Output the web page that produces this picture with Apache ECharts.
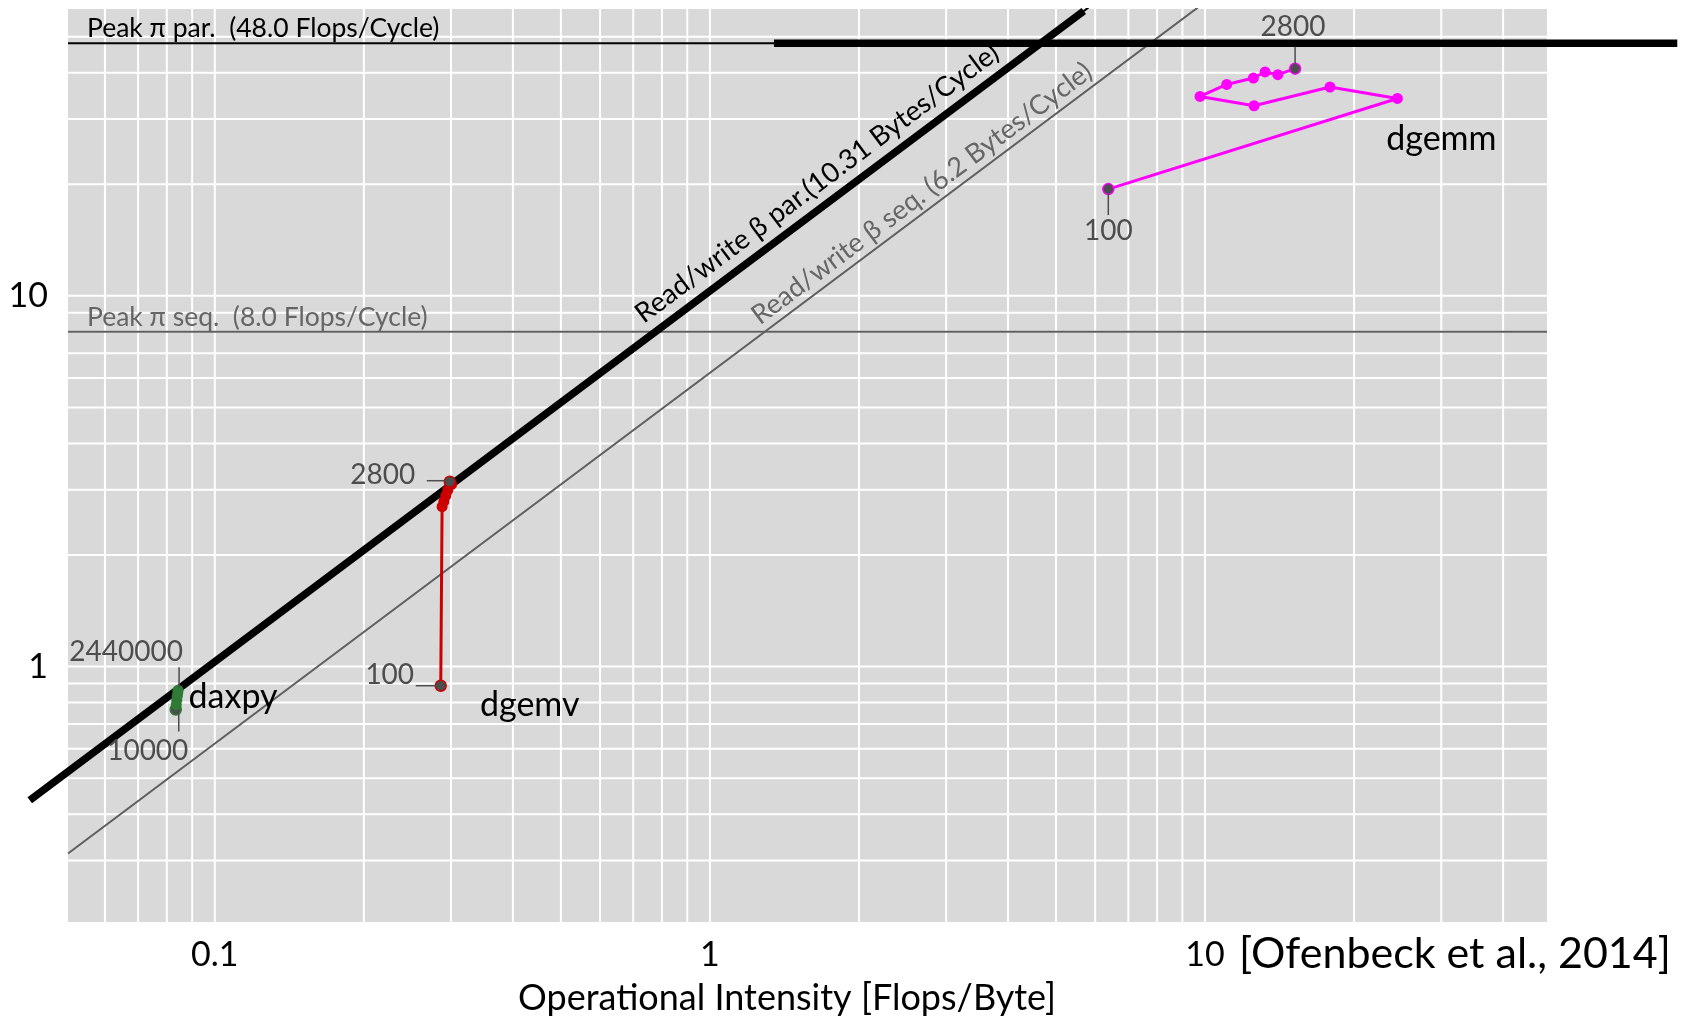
<!DOCTYPE html>
<html><head><meta charset="utf-8">
<script src="https://cdn.jsdelivr.net/npm/echarts@6/dist/echarts.min.js"></script>
<style>html,body{margin:0;padding:0;background:#fff}#c{width:1686px;height:1022px}</style>
</head><body><div id="c"></div>
<script>
// ---------------- data ----------------
const xGridValues = [0.06,0.07,0.08,0.09,0.1,0.2,0.3,0.4,0.5,0.6,0.7,0.8,0.9,1,2,3,4,5,6,7,8,9,10,20,30,40];
const yGridValues = [0.3,0.4,0.5,0.6,0.7,0.8,0.9,1,2,3,4,5,6,7,8,9,10,20,30,40,50];
const xTickLabels = [0.1, 1, 10];
const yTickLabels = [1, 10];
const xRange = [0.05053, 49.05];
const yRange = [0.2047, 59.4];

const peakPar = 48.0, peakSeq = 8.0;
const bwPar = 10.31, bwSeq = 6.2;
const peakParLabel = 'Peak \u03c0 par.  (48.0 Flops/Cycle)';
const peakSeqLabel = 'Peak \u03c0 seq.  (8.0 Flops/Cycle)';
const bwParLabel = 'Read/write \u03b2 par.(10.31 Bytes/Cycle)';
const bwSeqLabel = 'Read/write \u03b2 seq. (6.2 Bytes/Cycle)';
const bwParLabelAtX = 1.75;
const bwSeqLabelAtX = 2.805;

// highlighted roofline overlay (x extents)
const overlaySlopeX = [0.0423, 5.69];
const overlayPeakX = [1.347, 89.9];

const daxpyX = [0.0834, 0.0836, 0.0838, 0.0840, 0.0842, 0.0843];
const daxpyY = [0.766, 0.790, 0.812, 0.832, 0.850, 0.864];
const daxpyEnds = ['10000', '2440000'];

const dgemvX = [0.286, 0.2878, 0.2902, 0.2928, 0.2955, 0.3008, 0.2983];
const dgemvY = [0.888, 2.70, 2.79, 2.89, 2.99, 3.10, 3.153];
const dgemvEnds = ['100', '2800'];

const dgemmX = [6.377, 24.46, 17.88, 12.56, 9.77, 11.06, 12.52, 13.22, 14.03, 15.2];
const dgemmY = [19.41, 34.08, 36.59, 32.57, 34.51, 37.18, 38.69, 40.17, 39.5, 41.0];
const dgemmEnds = ['100', '2800'];

const citation = '[Ofenbeck et al., 2014]';
const xAxisName = 'Operational Intensity [Flops/Byte]';

// ---------------- styles / layout ----------------
const FONT = 'Lato';
const GRID = {left: 68, top: 9, width: 1479, height: 913};
const GRAY = '#4d4d4d';
const colors = {daxpy: '#2f7a35', dgemv: '#cc0000', dgemm: '#ff00ff'};

const pxPerDecX = GRID.width / Math.log10(xRange[1] / xRange[0]);
const pxPerDecY = GRID.height / Math.log10(yRange[1] / yRange[0]);
const roofAngle = Math.atan(pxPerDecY / pxPerDecX); // radians

function pts(xs, ys) { return xs.map((x, i) => [x, ys[i]]); }

const annotations = [];
function addText(x, y, text, o) {
  annotations.push(Object.assign({x, y, text, dx: 0, dy: 0, size: 28, color: GRAY,
    align: 'center', va: 'middle', rot: 0}, o));
}
// peak labels
addText(xRange[0], peakPar, peakParLabel, {dx: 19, dy: -1, size: 26.5, color: '#000', align: 'left', va: 'bottom'});
addText(xRange[0], peakSeq, peakSeqLabel, {dx: 19, dy: -1, size: 26.5, color: '#666', align: 'left', va: 'bottom'});
// bandwidth labels along the diagonals
addText(bwParLabelAtX, bwPar * bwParLabelAtX, bwParLabel, {size: 27.5, color: '#000', va: 'bottom', rot: roofAngle, ly: -8});
addText(bwSeqLabelAtX, bwSeq * bwSeqLabelAtX, bwSeqLabel, {size: 27, color: '#666', va: 'bottom', rot: roofAngle, ly: -3});
// size labels with leader segments
const nD = daxpyX.length - 1, nV = dgemvX.length - 1, nM = dgemmX.length - 1;
addText(daxpyX[0], daxpyY[0], daxpyEnds[0], {dx: -28, dy: 41, seg: [[3, 4], [3, 22]]});
addText(daxpyX[nD], daxpyY[nD], daxpyEnds[1], {dx: -52, dy: -38, seg: [[1, -3], [1, -23]]});
addText(dgemvX[0], dgemvY[0], dgemvEnds[0], {dx: -51, dy: -11, seg: [[-1, 0], [-25, 0]]});
addText(dgemvX[nV], dgemvY[nV], dgemvEnds[1], {dx: -67, dy: -7, seg: [[-5, -1], [-23, -1]]});
addText(dgemmX[0], dgemmY[0], dgemmEnds[0], {dx: 0, dy: 42, seg: [[0, 4], [0, 26]]});
addText(dgemmX[nM], dgemmY[nM], dgemmEnds[1], {dx: -2, dy: -42, seg: [[0, -4], [0, -22]]});
// kernel names
addText(daxpyX[nD], daxpyY[nD], 'daxpy', {dx: 55, dy: 7, size: 34, color: '#000'});
addText(dgemvX[0], dgemvY[0], 'dgemv', {dx: 89, dy: 19, size: 34, color: '#000'});
addText(dgemmX[1], dgemmY[1], 'dgemm', {dx: 44, dy: 41, size: 34, color: '#000'});

function isLabel(v, list) {
  return list.some(t => Math.abs(Math.log10(v) - Math.log10(t)) < 1e-6);
}

// position on the log-log axes, extrapolated beyond the axis extent when needed
function logCoord(api, x, y) {
  const a = api.coord([1, 1]);
  const b = api.coord([10, 10]);
  return [a[0] + Math.log10(x) * (b[0] - a[0]), a[1] + Math.log10(y) * (b[1] - a[1])];
}

function kernelSeries(name, xs, ys, grayFirst, grayLast) {
  const data = pts(xs, ys).map((p, i) => {
    const last = i === xs.length - 1;
    if ((i === 0 && grayFirst) || (last && grayLast)) {
      return {value: p, itemStyle: {color: GRAY, borderColor: colors[name], borderWidth: 1.5}};
    }
    return {value: p};
  });
  return {
    type: 'line', name, data, z: 4, silent: true, animation: false,
    symbol: 'circle', symbolSize: 11, showAllSymbol: true,
    itemStyle: {color: colors[name]},
    lineStyle: {color: colors[name], width: 3}
  };
}

const overlayLines = [
  [[overlaySlopeX[0], bwPar * overlaySlopeX[0]], [overlaySlopeX[1], bwPar * overlaySlopeX[1]]],
  [[overlayPeakX[0], peakPar], [overlayPeakX[1], peakPar]]
];

const chart = echarts.init(document.getElementById('c'), null, {renderer: 'canvas'});
chart.setOption({
  animation: false,
  backgroundColor: '#fff',
  grid: Object.assign({show: true, backgroundColor: '#d9d9d9', borderWidth: 0, containLabel: false}, GRID),
  xAxis: {
    type: 'log', logBase: 10, min: xRange[0], max: xRange[1],
    axisLine: {show: false}, axisTick: {show: false}, splitLine: {show: false},
    axisLabel: {fontSize: 34, fontFamily: FONT, color: '#000', margin: 16,
      showMinLabel: false, showMaxLabel: false,
      formatter: v => isLabel(v, xTickLabels) ? String(xTickLabels.find(t => isLabel(v, [t]))) : ''}
  },
  yAxis: {
    type: 'log', logBase: 10, min: yRange[0], max: yRange[1],
    axisLine: {show: false}, axisTick: {show: false}, splitLine: {show: false},
    axisLabel: {fontSize: 34, fontFamily: FONT, color: '#000', margin: 20,
      showMinLabel: false, showMaxLabel: false,
      formatter: v => isLabel(v, yTickLabels) ? String(yTickLabels.find(t => isLabel(v, [t]))) : ''}
  },
  graphic: [
    {type: 'text', x: 787, y: 998, style: {text: xAxisName, fontSize: 36, fontFamily: FONT, fill: '#000', align: 'center', verticalAlign: 'middle'}},
    {type: 'text', x: 1239, y: 954, style: {text: citation, fontSize: 43, fontFamily: FONT, fill: '#000', align: 'left', verticalAlign: 'middle'}}
  ],
  series: [
    { // vertical grid lines
      type: 'custom', silent: true, z: 1, animation: false,
      data: xGridValues.map(v => [v, yRange[0]]),
      renderItem: (params, api) => {
        const p = api.coord([api.value(0), api.value(1)]);
        const cs = params.coordSys;
        return {type: 'line', shape: {x1: p[0], y1: cs.y, x2: p[0], y2: cs.y + cs.height},
          style: {stroke: '#ffffff', lineWidth: 2}};
      }
    },
    { // horizontal grid lines
      type: 'custom', silent: true, z: 1, animation: false,
      data: yGridValues.map(v => [xRange[0], v]),
      renderItem: (params, api) => {
        const p = api.coord([api.value(0), api.value(1)]);
        const cs = params.coordSys;
        return {type: 'line', shape: {x1: cs.x, y1: p[1], x2: cs.x + cs.width, y2: p[1]},
          style: {stroke: '#ffffff', lineWidth: 2}};
      }
    },
    {type: 'line', z: 2, silent: true, symbol: 'none', animation: false,
     data: [[xRange[0], peakSeq], [xRange[1], peakSeq]], lineStyle: {color: '#5f5f5f', width: 2}},
    {type: 'line', z: 2, silent: true, symbol: 'none', animation: false,
     data: [[xRange[0], bwSeq * xRange[0]], [xRange[1], bwSeq * xRange[1]]], lineStyle: {color: '#5f5f5f', width: 2}},
    {type: 'line', z: 2, silent: true, symbol: 'none', animation: false,
     data: [[xRange[0], peakPar], [xRange[1], peakPar]], lineStyle: {color: '#000', width: 2}},
    {type: 'line', z: 2, silent: true, symbol: 'none', animation: false,
     data: [[xRange[0], bwPar * xRange[0]], [xRange[1], bwPar * xRange[1]]], lineStyle: {color: '#000', width: 2}},
    { // thick highlighted roofline (extends past the panel)
      type: 'custom', silent: true, z: 3, animation: false, clip: false,
      data: overlayLines.map(l => [l[0][0], l[0][1]]),
      renderItem: (params, api) => {
        const l = overlayLines[params.dataIndex];
        const p1 = logCoord(api, l[0][0], l[0][1]);
        const p2 = logCoord(api, l[1][0], l[1][1]);
        return {type: 'line', shape: {x1: p1[0], y1: p1[1], x2: p2[0], y2: p2[1]},
          style: {stroke: '#000', lineWidth: 7.5, lineCap: 'butt'}};
      }
    },
    kernelSeries('daxpy', daxpyX, daxpyY, true, false),
    kernelSeries('dgemv', dgemvX, dgemvY, true, true),
    kernelSeries('dgemm', dgemmX, dgemmY, true, true),
    { // text annotations
      type: 'custom', silent: true, z: 6, animation: false, clip: false,
      data: annotations.map(a => [a.x, a.y]),
      renderItem: (params, api) => {
        const a = annotations[params.dataIndex];
        const p = api.coord([api.value(0), api.value(1)]);
        const children = [];
        if (a.seg) {
          children.push({type: 'line', shape: {x1: p[0] + a.seg[0][0], y1: p[1] + a.seg[0][1],
            x2: p[0] + a.seg[1][0], y2: p[1] + a.seg[1][1]}, style: {stroke: GRAY, lineWidth: 1.5}});
        }
        children.push({type: 'text', x: p[0] + a.dx, y: p[1] + a.dy, rotation: a.rot,
          style: {text: a.text, x: 0, y: a.ly || 0, fill: a.color, fontSize: a.size, fontFamily: FONT,
            align: a.align, verticalAlign: a.va}});
        return {type: 'group', children};
      }
    }
  ]
});
</script></body></html>
